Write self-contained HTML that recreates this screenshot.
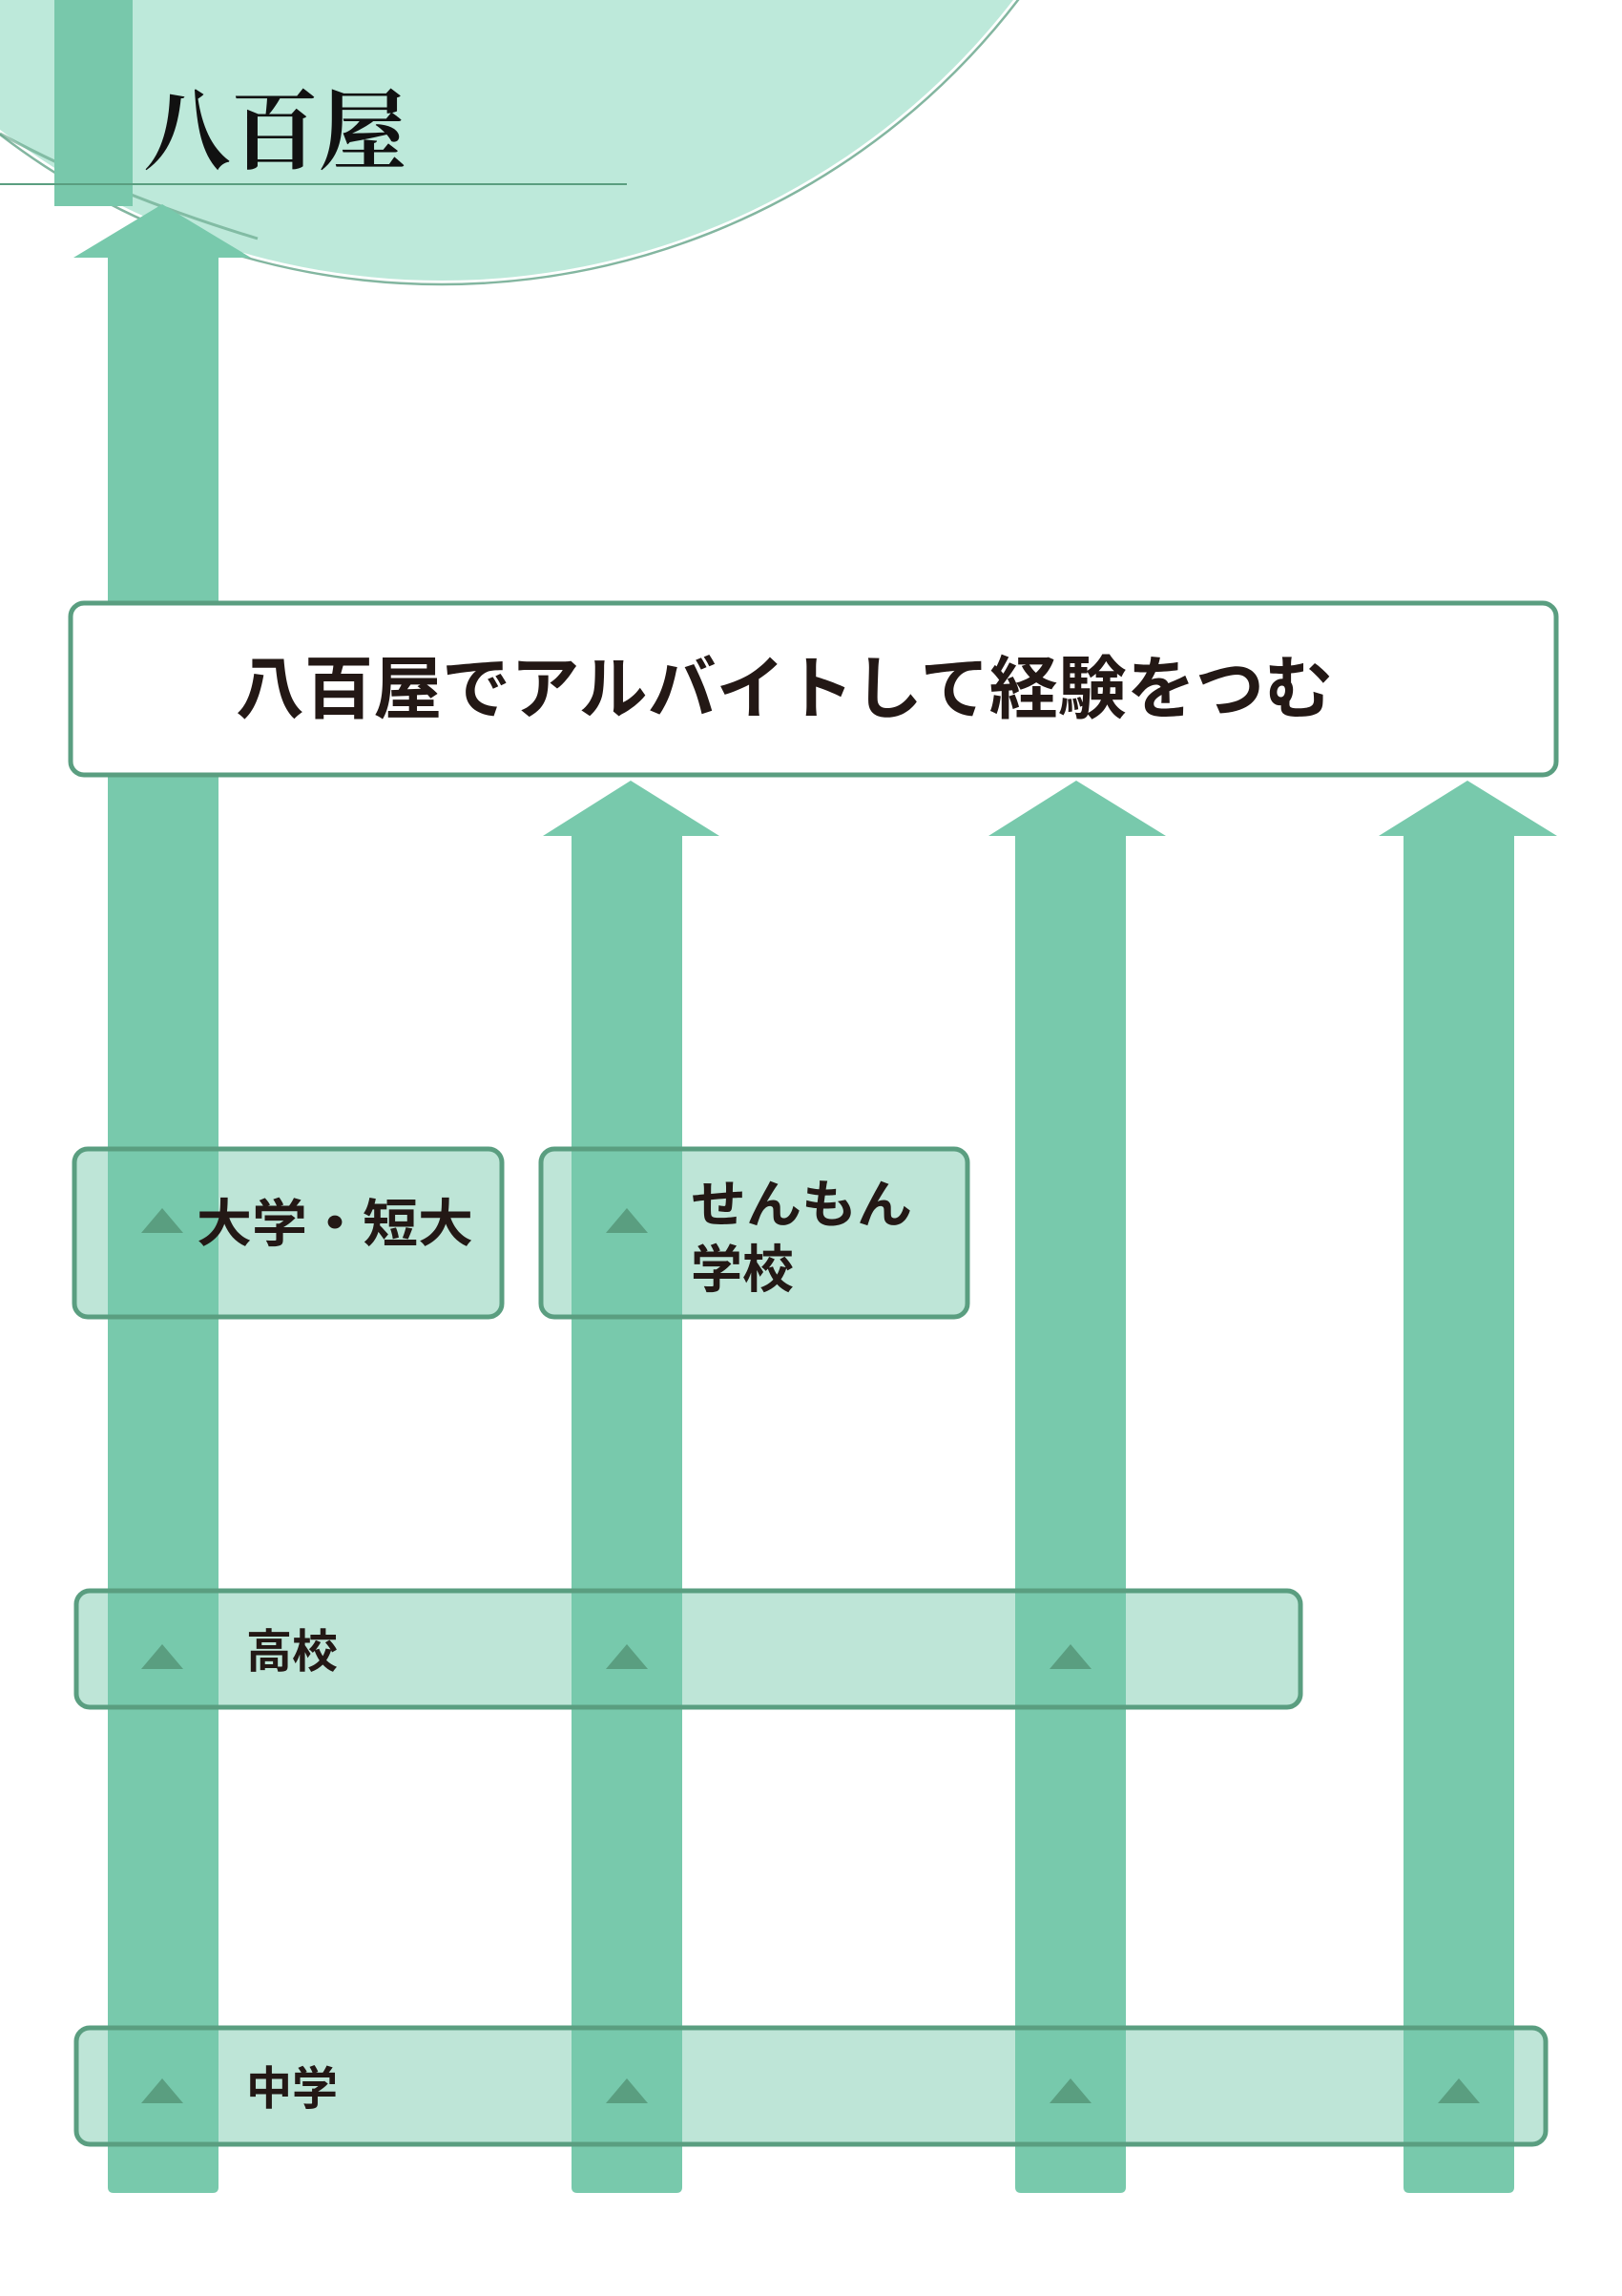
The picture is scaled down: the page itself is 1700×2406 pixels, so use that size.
<!DOCTYPE html>
<html><head><meta charset="utf-8"><style>
html,body{margin:0;padding:0;background:#fff;}
svg{display:block;}
text{font-family:"Liberation Sans","Noto Sans CJK JP",sans-serif;fill:#231815;}
</style></head><body>
<svg width="1700" height="2406" viewBox="0 0 1700 2406" xmlns="http://www.w3.org/2000/svg">
<!-- header circle -->
<circle cx="463" cy="-463" r="757" fill="#bde9da"/>
<circle cx="463" cy="-463" r="761" fill="none" stroke="#5a9e80" stroke-width="2.5" opacity="0.75"/>
<path d="M0,140 Q120,205 270,250" fill="none" stroke="#5a9e80" stroke-width="3" opacity="0.6"/>
<rect x="57" y="0" width="82" height="216" fill="#78c8ab"/>
<line x1="0" y1="193" x2="657" y2="193" stroke="#5a9e80" stroke-width="2"/>
<text x="150" y="170" font-size="92" font-weight="bold" style="font-family:'Liberation Serif','Noto Serif CJK SC',serif;fill:#111">八百屋</text>

<!-- arrows -->
<g fill="#78c9ac">
<path d="M113,270 L77,270 L170,214 L263,270 L229,270 L229,2292 Q229,2298 223,2298 L119,2298 Q113,2298 113,2292 Z"/>
<path d="M599,876 L569,876 L661,818 L754,876 L715,876 L715,2292 Q715,2298 709,2298 L605,2298 Q599,2298 599,2292 Z"/>
<path d="M1064,876 L1036,876 L1128,818 L1222,876 L1180,876 L1180,2292 Q1180,2298 1174,2298 L1070,2298 Q1064,2298 1064,2292 Z"/>
<path d="M1471,876 L1445,876 L1538,818 L1632,876 L1587,876 L1587,2292 Q1587,2298 1581,2298 L1477,2298 Q1471,2298 1471,2292 Z"/>
</g>

<!-- top box -->
<rect x="74" y="632" width="1557" height="180" rx="14" fill="#fff" stroke="#5a9e80" stroke-width="5"/>
<text x="247" y="747" font-size="72" font-weight="bold" textLength="1150" lengthAdjust="spacingAndGlyphs">八百屋でアルバイトして経験をつむ</text>

<!-- stage boxes -->
<g fill="rgba(120,201,172,0.48)" stroke="#5a9e80" stroke-width="5">
<rect x="78" y="1204" width="448" height="176" rx="14"/>
<rect x="567" y="1204" width="447" height="176" rx="14"/>
<rect x="80" y="1667" width="1283" height="122" rx="14"/>
<rect x="80" y="2125" width="1540" height="122" rx="14"/>
</g>

<!-- triangles -->
<g fill="#5a9e80">
<path d="M148,1292 L192,1292 L170,1266 Z"/>
<path d="M635,1292 L679,1292 L657,1266 Z"/>
<path d="M148,1749 L192,1749 L170,1723 Z"/>
<path d="M635,1749 L679,1749 L657,1723 Z"/>
<path d="M1100,1749 L1144,1749 L1122,1723 Z"/>
<path d="M148,2204 L192,2204 L170,2178 Z"/>
<path d="M635,2204 L679,2204 L657,2178 Z"/>
<path d="M1100,2204 L1144,2204 L1122,2178 Z"/>
<path d="M1507,2204 L1551,2204 L1529,2178 Z"/>
</g>

<g font-weight="bold">
<text x="206" y="1301" font-size="54" textLength="290" lengthAdjust="spacingAndGlyphs">大学・短大</text>
<text x="724" y="1281" font-size="54" textLength="232" lengthAdjust="spacingAndGlyphs">せんもん</text>
<text x="724" y="1349" font-size="54">学校</text>
<text x="258" y="1747" font-size="48">高校</text>
<text x="258" y="2205" font-size="48">中学</text>
</g>
</svg>
</body></html>
